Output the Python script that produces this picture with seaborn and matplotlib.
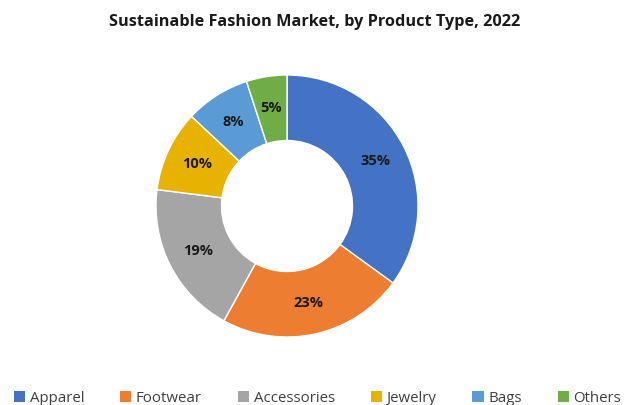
import matplotlib
matplotlib.use("Agg")
import matplotlib.pyplot as plt
import seaborn as sns
from matplotlib.patches import Patch

sns.set_style("white")
plt.rcParams['font.family'] = ['Open Sans', 'DejaVu Sans']

categories = ["Apparel", "Footwear", "Accessories", "Jewelry", "Bags", "Others"]
values = [35, 23, 19, 10, 8, 5]
colors = ["#4472C4", "#ED7D31", "#A5A5A5", "#E8B200", "#5B9BD5", "#70AD47"]
title = "Sustainable Fashion Market, by Product Type, 2022"

fig = plt.figure(figsize=(6.3, 4.05), dpi=100)
fig.patch.set_facecolor("white")
ax = fig.add_axes([0.2476, 0.1679, 0.4159, 0.6469])
wedges, texts, autotexts = ax.pie(
    values, colors=colors, startangle=90, counterclock=False,
    autopct=lambda p: f"{p:.0f}%", pctdistance=0.76,
    wedgeprops=dict(width=0.5, edgecolor="white", linewidth=1),
    textprops=dict(fontsize=10.5, fontweight="bold", color="#1a1a1a"))
ax.set_xlim(-1, 1)
ax.set_ylim(-1, 1)
ax.set_aspect("equal")
ax.axis("off")

fig.text(0.5, 0.945, title, ha="center", va="center", fontsize=11.7,
         fontweight="bold", color="#1a1a1a")

handles = [Patch(facecolor=c, edgecolor="none") for c in colors]
fig.legend(handles, categories, loc="center left", bbox_to_anchor=(0.022, 0.016),
           ncol=6, frameon=False, fontsize=10.8, handlelength=0.75,
           handleheight=0.75, handletextpad=0.3, columnspacing=2.4,
           labelcolor="#404040", borderaxespad=0, borderpad=0)

fig.savefig("out.png", dpi=100, facecolor="white")
